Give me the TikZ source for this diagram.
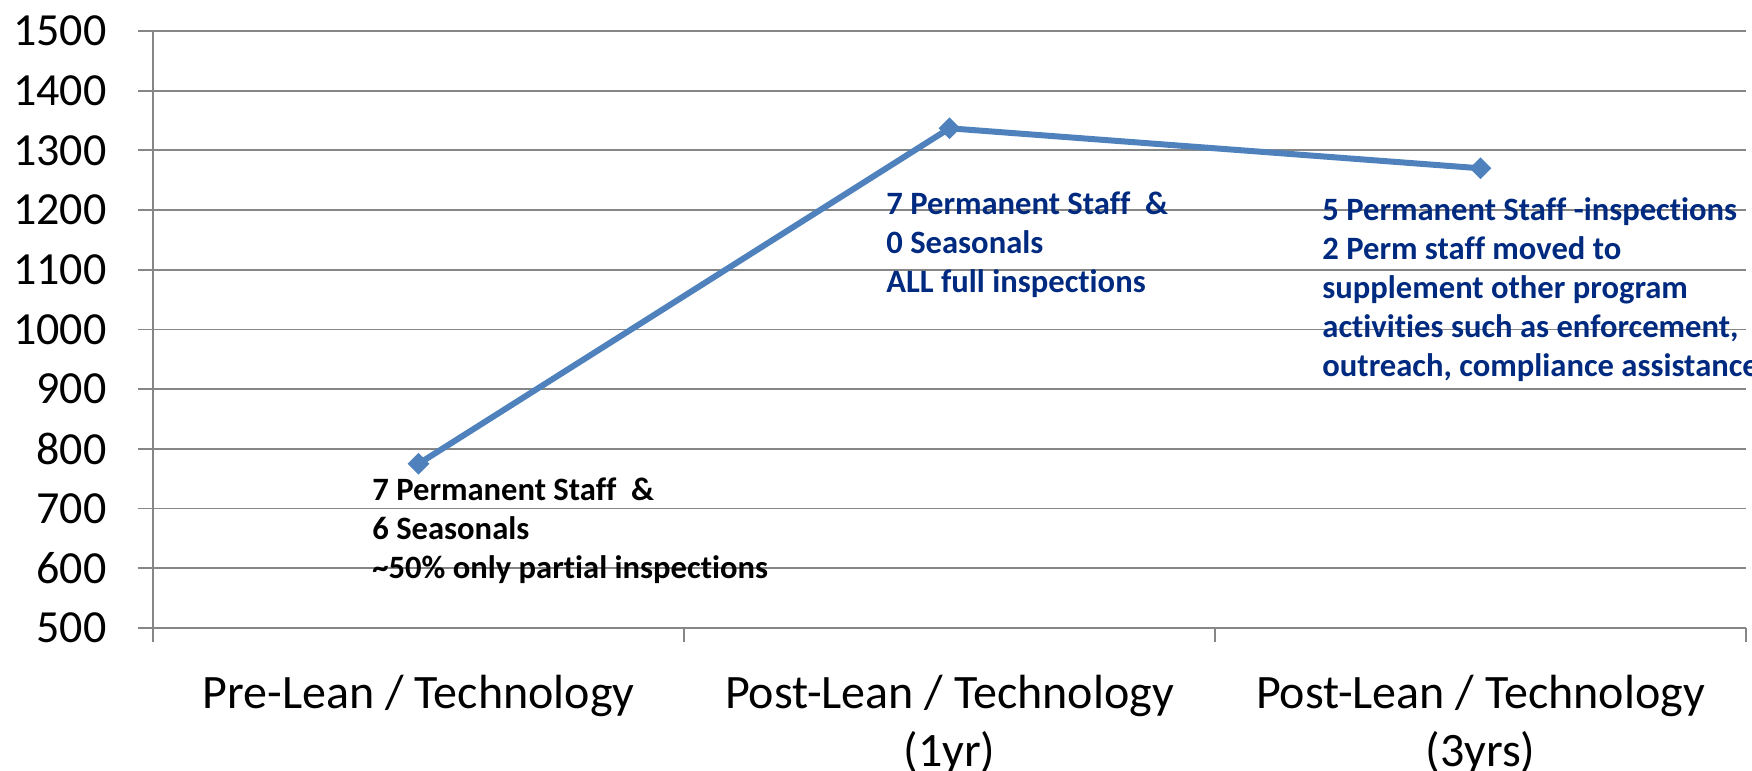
\documentclass[tikz,border=0pt]{standalone}
\usepackage{fontspec}
\setmainfont{Carlito}[Ligatures=NoCommon]
\usepackage{tikz}
\usetikzlibrary{shapes.geometric}

\definecolor{serblue}{RGB}{79,129,189}
\definecolor{notenavy}{RGB}{0,42,128}
\definecolor{gridgray}{RGB}{134,134,134}

\begin{document}
\begin{tikzpicture}[x=265.5pt, y=29.85pt,
  gridline/.style={gridgray, line width=0.9pt},
  ticklab/.style={font=\fontsize{23}{29}\selectfont, inner sep=0pt},
  catlab/.style={font=\fontsize{24}{29}\selectfont, inner sep=0pt, align=center, anchor=north},
  note/.style={font=\fontsize{16.3}{19.4}\selectfont\bfseries, align=left, anchor=north west, inner sep=0pt},
  datamark/.style={diamond, fill=serblue, inner sep=0pt, minimum width=11pt, minimum height=11pt}]

\useasboundingbox (-76.5pt,-71.5pt) rectangle (799.5pt,314pt);

% value axis
\foreach \y [evaluate=\y as \v using int(500+100*\y)] in {0,...,10}{
  \draw[gridline] ([xshift=-7.5pt]0,\y) -- (3,\y);
  \node[ticklab, anchor=east] (val\v) at ([xshift=-23pt]0,\y) {\v};
}
\draw[gridline] (0,10) -- ([yshift=-7pt]0,0);
\foreach \i in {1,2,3}
  \draw[gridline] (\i,0) -- ([yshift=-7pt]\i,0);

% categories
\node[catlab] (cat1) at ([yshift=-23.5pt]0.5,0) {Pre-Lean / Technology};
\node[catlab] (cat2) at ([yshift=-23.5pt]1.5,0) {Post-Lean / Technology\\(1yr)};
\node[catlab] (cat3) at ([yshift=-23.5pt]2.5,0) {Post-Lean / Technology\\(3yrs)};

% series
\coordinate (d1) at (0.5,2.75);
\coordinate (d2) at (1.5,8.37);
\coordinate (d3) at (2.5,7.70);
\draw[serblue, line width=3pt, line join=round] (d1) -- (d2) -- (d3);
\foreach \k in {1,2,3}
  \node[datamark] (m\k) at (d\k) {};

% notes
\node[note] (note1) at (0.4124,2.52) {7 Permanent Staff\ \ \&\\6 Seasonals\\\textasciitilde50\% only partial inspections};
\node[note, notenavy] (note2) at (1.3804,7.31) {7 Permanent Staff\ \ \&\\0 Seasonals\\ALL full inspections};
\node[note, notenavy] (note3) at (2.2015,7.21) {5 Permanent Staff -inspections\\2 Perm staff moved to\\supplement other program\\activities such as enforcement,\\outreach, compliance assistance};

\end{tikzpicture}
\end{document}
